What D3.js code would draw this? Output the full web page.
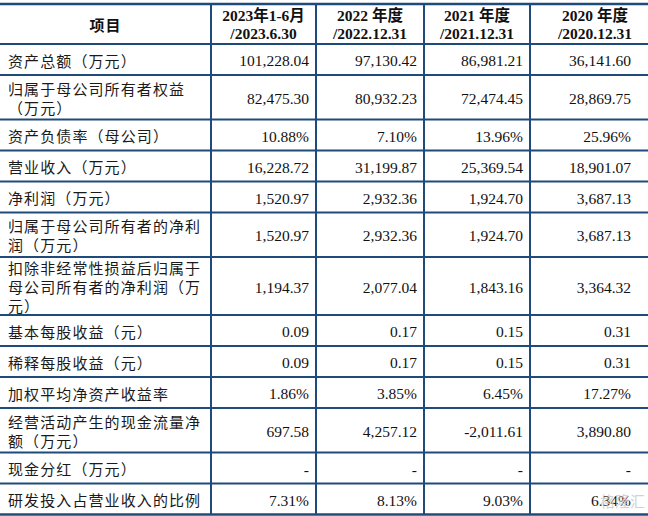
<!DOCTYPE html>
<html>
<head>
<meta charset="utf-8">
<script src="https://cdn.jsdelivr.net/npm/d3@7"></script>
<style>
  html, body { margin: 0; padding: 0; background: #fff; }
  svg { display: block; }
</style>
</head>
<body>
<div id="chart"></div>
<script>
// row labels (explicit line breaks as in the source table)
const items = [
  ["资产总额（万元）"],
  ["归属于母公司所有者权益", "（万元）"],
  ["资产负债率（母公司）"],
  ["营业收入（万元）"],
  ["净利润（万元）"],
  ["归属于母公司所有者的净利", "润（万元）"],
  ["扣除非经常性损益后归属于", "母公司所有者的净利润（万", "元）"],
  ["基本每股收益（元）"],
  ["稀释每股收益（元）"],
  ["加权平均净资产收益率"],
  ["经营活动产生的现金流量净", "额（万元）"],
  ["现金分红（万元）"],
  ["研发投入占营业收入的比例"]
];
const periods = ["2023年1-6月", "2022 年度", "2021 年度", "2020 年度"];
const periodEnds = ["/2023.6.30", "/2022.12.31", "/2021.12.31", "/2020.12.31"];
const pctRows = [2, 9, 12];

const v2023H1 = [101228.04, 82475.30, 10.88, 16228.72, 1520.97, 1520.97, 1194.37, 0.09, 0.09, 1.86, 697.58, null, 7.31];
const v2022   = [97130.42, 80932.23, 7.10, 31199.87, 2932.36, 2932.36, 2077.04, 0.17, 0.17, 3.85, 4257.12, null, 8.13];
const v2021   = [86981.21, 72474.45, 13.96, 25369.54, 1924.70, 1924.70, 1843.16, 0.15, 0.15, 6.45, -2011.61, null, 9.03];
const v2020   = [36141.60, 28869.75, 25.96, 18901.07, 3687.13, 3687.13, 3364.32, 0.31, 0.31, 17.27, 3890.80, null, 6.34];
const series = [v2023H1, v2022, v2021, v2020];

const width = 648, height = 516;
const lineColor = "#1f4a7c";
const cjk = "'Noto Sans CJK SC', 'Noto Sans', sans-serif";
const serif = "'Liberation Serif', 'Times New Roman', 'Noto Sans CJK SC', serif";

const locale = d3.formatLocale({decimal: ".", thousands: ",", grouping: [3], currency: ["", ""], minus: "-"});
const fmtNum = locale.format(",.2f");
const fmtPct = locale.format(".2f");
function fmt(v, i) {
  if (v == null) return "-";
  return pctRows.includes(i) ? fmtPct(v) + "%" : fmtNum(v);
}

// columns: label column + 4 period columns
const colKeys = ["label", ...periods, "end"];
const colEdges = d3.scaleOrdinal()
  .domain(colKeys)
  .range([0, 211, 316, 424, 530, 660]);
const nextKey = k => colKeys[colKeys.indexOf(k) + 1];

// rows: height grows with the number of text lines
const rowH = d3.scaleLinear().domain([1, 3]).range([31, 58]);
const topY = 4, headH = 40;
const heights = items.map(d => rowH(d.length));
const rowTops = [topY + headH, ...d3.cumsum(heights).map(h => topY + headH + h)];
const lineH = 19;

const svg = d3.select("#chart").append("svg")
  .attr("width", width)
  .attr("height", height);

// header
svg.append("text")
  .attr("x", (colEdges("label") + colEdges(periods[0])) / 2)
  .attr("y", topY + headH / 2)
  .attr("text-anchor", "middle")
  .attr("dominant-baseline", "central")
  .style("font-family", cjk)
  .style("font-weight", "bold")
  .style("font-size", "15px")
  .style("letter-spacing", "1px")
  .attr("fill", "#111")
  .text("项目");

periods.forEach((p, k) => {
  const cx = (colEdges(p) + colEdges(nextKey(p))) / 2;
  const t = svg.append("text")
    .attr("text-anchor", "middle")
    .style("font-family", serif)
    .style("font-weight", "bold")
    .style("font-size", "15.5px")
    .attr("fill", "#111");
  t.append("tspan").attr("x", cx).attr("y", topY + headH / 2 - 9)
    .attr("dominant-baseline", "central").text(p);
  t.append("tspan").attr("x", cx).attr("y", topY + headH / 2 + 9.5)
    .attr("dominant-baseline", "central").text(periodEnds[k]);
});

// body rows
const rows = svg.selectAll("g.row")
  .data(items)
  .enter()
  .append("g")
    .attr("class", "row")
    .attr("transform", (d, i) => "translate(0," + rowTops[i] + ")");

rows.each(function(lines, i) {
  const g = d3.select(this);
  const mid = heights[i] / 2;
  lines.forEach((ln, j) => {
    g.append("text")
      .attr("x", 8)
      .attr("y", mid + (j - (lines.length - 1) / 2) * lineH + 0.5)
      .attr("dominant-baseline", "central")
      .style("font-family", cjk)
      .style("font-size", "15px")
      .style("letter-spacing", "1.1px")
      .attr("fill", "#1a1a1a")
      .text(ln);
  });
  series.forEach((s, k) => {
    const right = Math.min(colEdges(nextKey(periods[k])), 638);
    g.append("text")
      .attr("x", right - 7)
      .attr("y", mid + 1)
      .attr("text-anchor", "end")
      .attr("dominant-baseline", "central")
      .style("font-family", serif)
      .style("font-size", "15.5px")
      .attr("fill", "#111")
      .text(fmt(s[i], i));
  });
});

// grid lines
const hLines = [topY, ...rowTops];
svg.append("g")
  .selectAll("line")
  .data(hLines)
  .enter()
  .append("line")
    .attr("x1", 0)
    .attr("x2", width)
    .attr("y1", d => d)
    .attr("y2", d => d)
    .attr("stroke", lineColor)
    .attr("stroke-width", (d, i) => (i === 0 || i === hLines.length - 1) ? 2.6 : 2);

svg.append("g")
  .selectAll("line")
  .data(periods)
  .enter()
  .append("line")
    .attr("x1", d => colEdges(d))
    .attr("x2", d => colEdges(d))
    .attr("y1", topY)
    .attr("y2", hLines[hLines.length - 1])
    .attr("stroke", lineColor)
    .attr("stroke-width", 2);

// watermark
svg.append("text")
  .attr("x", 645)
  .attr("y", hLines[hLines.length - 2] + heights[heights.length - 1] / 2 + 1)
  .attr("text-anchor", "end")
  .attr("dominant-baseline", "central")
  .style("font-family", cjk)
  .style("font-size", "15px")
  .attr("fill", "#c8c8c8")
  .attr("opacity", 0.8)
  .text("格隆汇");
</script>
</body>
</html>
